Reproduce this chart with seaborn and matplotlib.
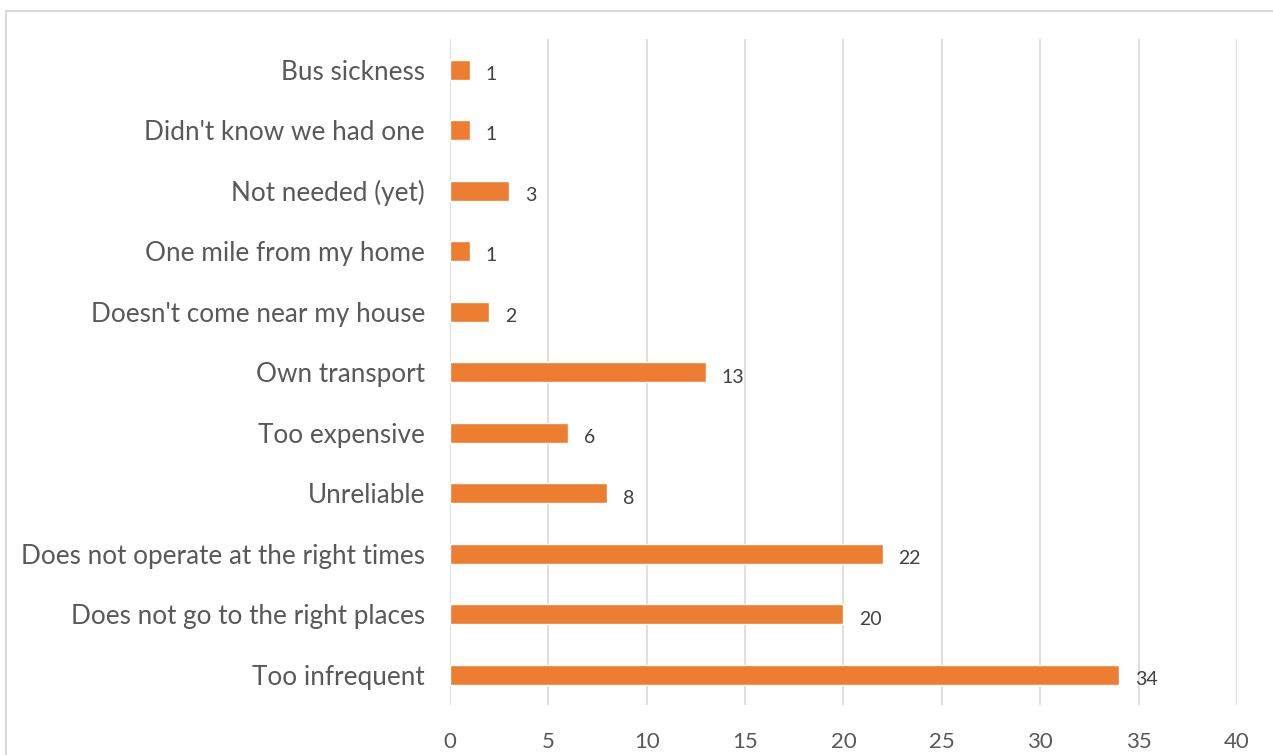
import matplotlib
matplotlib.use("Agg")
import matplotlib.pyplot as plt
import seaborn as sns
import pandas as pd
from matplotlib.patches import Rectangle

# Data (top to bottom as shown)
reasons = [
    "Bus sickness",
    "Didn't know we had one",
    "Not needed (yet)",
    "One mile from my home",
    "Doesn't come near my house",
    "Own transport",
    "Too expensive",
    "Unreliable",
    "Does not operate at the right times",
    "Does not go to the right places",
    "Too infrequent",
]
counts = [1, 1, 3, 1, 2, 13, 6, 8, 22, 20, 34]
x_ticks = [0, 5, 10, 15, 20, 25, 30, 35, 40]

df = pd.DataFrame({"reason": reasons, "count": counts})

sns.set_theme(style="white")
plt.rcParams["font.family"] = ["Lato", "DejaVu Sans"]

fig = plt.figure(figsize=(12.73, 7.55), dpi=100)
ax = fig.add_axes([0.3535, 0.066, 0.6182, 0.882])

sns.barplot(data=df, y="reason", x="count", orient="h", color="#ED7D31",
            saturation=1, width=0.33, ax=ax)

ax.set_xlim(0, 40)
ax.set_ylim(10.5, -0.5)
ax.set_xticks(x_ticks)
ax.set_xlabel("")
ax.set_ylabel("")
ax.xaxis.grid(True, color="#D9D9D9", linewidth=1.2)
ax.set_axisbelow(True)
for s in ax.spines.values():
    s.set_visible(False)
ax.tick_params(axis="x", labelsize=16, length=0, pad=19)
ax.tick_params(axis="y", labelsize=18.8, length=0, pad=18)
for lbl in ax.get_xticklabels() + ax.get_yticklabels():
    lbl.set_color("#595959")

for i, v in enumerate(counts):
    ax.text(v + 0.8, i + 0.08, str(v), va="center", ha="left",
            fontsize=14, color="#404040")

# chart border (outer frame)
fig.patches.append(Rectangle((6 / 1273, -0.05), 1.2, 1 - 11 / 755 + 0.05,
                             transform=fig.transFigure, fill=False,
                             edgecolor="#D9D9D9", linewidth=1.5))

fig.savefig("out.png", dpi=100)
